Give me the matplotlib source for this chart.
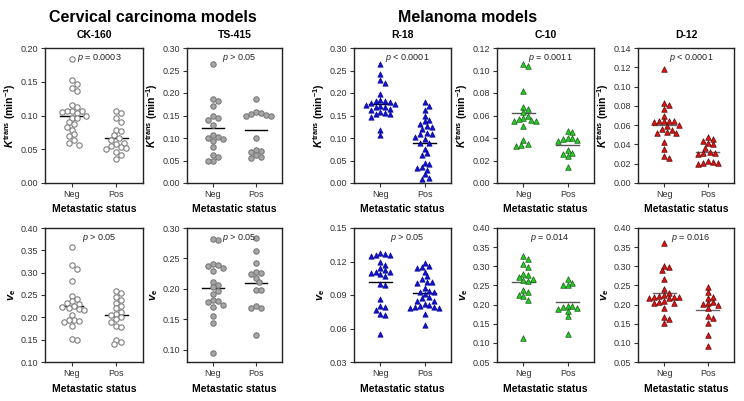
import matplotlib
matplotlib.use('Agg')
import matplotlib.pyplot as plt
import numpy as np

plt.rcParams['font.family'] = ['Liberation Sans', 'DejaVu Sans']
plt.rcParams['mathtext.fontset'] = 'custom'
plt.rcParams['mathtext.rm'] = 'Liberation Sans:bold'
plt.rcParams['mathtext.it'] = 'Liberation Sans:italic:bold'
plt.rcParams['mathtext.bf'] = 'Liberation Sans:bold'
plt.rcParams['mathtext.sf'] = 'Liberation Sans:italic'

groups = ['Neg', 'Pos']

# K-trans (min^-1), top row
ck160_ktrans_neg = [0.183, 0.152, 0.147, 0.140, 0.137, 0.116, 0.112, 0.106, 0.106, 0.106, 0.105, 0.104,
                    0.100, 0.097, 0.096, 0.090, 0.088, 0.083, 0.079, 0.072, 0.069, 0.063, 0.060, 0.057]
ck160_ktrans_pos = [0.107, 0.104, 0.097, 0.091, 0.078, 0.077, 0.071, 0.066, 0.064, 0.060, 0.058, 0.055,
                    0.053, 0.052, 0.051, 0.046, 0.041, 0.036]
ts415_ktrans_neg = [0.265, 0.186, 0.182, 0.171, 0.149, 0.145, 0.140, 0.130, 0.106, 0.103, 0.099, 0.097,
                    0.093, 0.081, 0.063, 0.058, 0.050, 0.049]
ts415_ktrans_pos = [0.187, 0.157, 0.155, 0.154, 0.152, 0.150, 0.148, 0.100, 0.074, 0.072, 0.070, 0.063,
                    0.058, 0.056]
r18_ktrans_neg = [0.265, 0.242, 0.228, 0.222, 0.197, 0.184, 0.182, 0.183, 0.180, 0.178, 0.176, 0.174,
                  0.172, 0.170, 0.168, 0.165, 0.163, 0.157, 0.155, 0.154, 0.153, 0.147, 0.118, 0.106]
r18_ktrans_pos = [0.180, 0.172, 0.162, 0.148, 0.140, 0.137, 0.131, 0.127, 0.124, 0.119, 0.111, 0.110,
                  0.109, 0.102, 0.097, 0.090, 0.089, 0.076, 0.066, 0.063, 0.045, 0.042, 0.035, 0.033,
                  0.030, 0.020, 0.012, 0.010]
c10_ktrans_neg = [0.106, 0.104, 0.082, 0.068, 0.066, 0.063, 0.060, 0.058, 0.057, 0.056, 0.055, 0.055,
                  0.051, 0.038, 0.035, 0.034, 0.033]
c10_ktrans_pos = [0.046, 0.045, 0.040, 0.040, 0.039, 0.038, 0.037, 0.029, 0.027, 0.026, 0.024, 0.014]
d12_ktrans_neg = [0.118, 0.083, 0.081, 0.077, 0.070, 0.064, 0.064, 0.064, 0.064, 0.063, 0.060, 0.059,
                  0.056, 0.055, 0.053, 0.052, 0.052, 0.043, 0.035, 0.028, 0.026]
d12_ktrans_pos = [0.048, 0.046, 0.044, 0.041, 0.040, 0.036, 0.032, 0.031, 0.031, 0.030, 0.023, 0.022,
                  0.021, 0.021, 0.020]

# v_e, bottom row
ck160_ve_neg = [0.358, 0.317, 0.308, 0.281, 0.247, 0.240, 0.236, 0.233, 0.230, 0.226, 0.224, 0.222,
                0.219, 0.216, 0.205, 0.195, 0.193, 0.192, 0.190, 0.181, 0.152, 0.149]
ck160_ve_pos = [0.260, 0.255, 0.245, 0.238, 0.233, 0.225, 0.220, 0.212, 0.208, 0.205, 0.200, 0.197,
                0.190, 0.180, 0.178, 0.150, 0.145, 0.140]
ts415_ve_neg = [0.281, 0.282, 0.241, 0.239, 0.237, 0.234, 0.230, 0.212, 0.206, 0.203, 0.197, 0.191,
                0.182, 0.180, 0.179, 0.174, 0.171, 0.156, 0.144, 0.095]
ts415_ve_pos = [0.283, 0.262, 0.242, 0.227, 0.226, 0.224, 0.218, 0.211, 0.199, 0.198, 0.169, 0.168,
                0.172, 0.125]
r18_ve_neg = [0.128, 0.127, 0.126, 0.126, 0.125, 0.120, 0.117, 0.114, 0.112, 0.111, 0.111, 0.110,
              0.109, 0.107, 0.100, 0.099, 0.086, 0.080, 0.079, 0.077, 0.073, 0.072, 0.055]
r18_ve_pos = [0.119, 0.116, 0.115, 0.114, 0.111, 0.107, 0.104, 0.102, 0.102, 0.101, 0.096, 0.094,
              0.093, 0.093, 0.091, 0.088, 0.087, 0.085, 0.085, 0.082, 0.081, 0.080, 0.079, 0.079,
              0.078, 0.078, 0.073, 0.063]
c10_ve_neg = [0.328, 0.318, 0.305, 0.298, 0.280, 0.277, 0.273, 0.268, 0.263, 0.262, 0.237, 0.233,
              0.226, 0.223, 0.212, 0.112]
c10_ve_pos = [0.266, 0.257, 0.252, 0.250, 0.197, 0.195, 0.194, 0.191, 0.189, 0.184, 0.170, 0.122]
d12_ve_neg = [0.360, 0.302, 0.297, 0.290, 0.268, 0.240, 0.229, 0.226, 0.222, 0.220, 0.220, 0.219,
              0.218, 0.216, 0.210, 0.207, 0.205, 0.205, 0.190, 0.168, 0.162, 0.153]
d12_ve_pos = [0.245, 0.232, 0.221, 0.218, 0.208, 0.205, 0.202, 0.198, 0.192, 0.170, 0.165, 0.151,
              0.120, 0.092]

# group lines (Neg, Pos) as drawn
ktrans_lines = [(0.100, 0.066), (0.123, 0.117), (0.175, 0.089), (0.062, 0.034), (0.060, 0.032)]
ve_lines = [(0.226, 0.205), (0.201, 0.209), (0.102, 0.092), (0.258, 0.207), (0.230, 0.186)]

models = ['CK-160', 'TS-415', 'R-18', 'C-10', 'D-12']
ktrans_p = ['= 0.0003', '> 0.05', '< 0.0001', '= 0.0011', '< 0.0001']
ve_p = ['> 0.05', '> 0.05', '> 0.05', '= 0.014', '= 0.016']

ktrans_data = [(ck160_ktrans_neg, ck160_ktrans_pos), (ts415_ktrans_neg, ts415_ktrans_pos),
               (r18_ktrans_neg, r18_ktrans_pos), (c10_ktrans_neg, c10_ktrans_pos),
               (d12_ktrans_neg, d12_ktrans_pos)]
ve_data = [(ck160_ve_neg, ck160_ve_pos), (ts415_ve_neg, ts415_ve_pos), (r18_ve_neg, r18_ve_pos),
           (c10_ve_neg, c10_ve_pos), (d12_ve_neg, d12_ve_pos)]

# axis ranges (low, high, tick step)
ktrans_ylim = [(0, 0.20, 0.05), (0, 0.30, 0.05), (0, 0.30, 0.05), (0, 0.12, 0.02), (0, 0.14, 0.02)]
ve_ylim = [(0.10, 0.40, 0.05), (0.08, 0.30, 0.05), (0.03, 0.15, 0.03), (0.05, 0.40, 0.05), (0.05, 0.40, 0.05)]

# marker styles per model
styles = [
    dict(marker='o', facecolor='white', edgecolor='#7f7f7f', s=15, lw=0.8),
    dict(marker='o', facecolor='#a6a6a6', edgecolor='#7a7a7a', s=15, lw=0.8),
    dict(marker='^', facecolor='#1010d0', edgecolor='#000080', s=15, lw=0.4),
    dict(marker='^', facecolor='#22cc22', edgecolor='#1a5a1a', s=16, lw=0.5),
    dict(marker='^', facecolor='#dd1111', edgecolor='#5a0a0a', s=16, lw=0.5),
]
line_colors = ['black', 'black', 'black', '#555555', '#666666']

col_px = [(45, 143), (187, 282), (354, 451), (497, 594), (638, 734)]
row_px = [(48, 183), (228, 362)]
W, H = 744, 401
XLIM = (0.4, 2.6)


def swarm_x(values, center, w_px, h_px, ylim, diam=4.9):
    sx = w_px / (XLIM[1] - XLIM[0])
    sy = h_px / (ylim[1] - ylim[0])
    values = np.asarray(values)
    order = np.argsort(-values)
    placed = []
    xs = np.zeros(len(values))
    step = diam * 0.5
    for i in order:
        ypx = values[i] * sy
        cands = [0.0]
        for k in range(1, 30):
            cands += [k * step, -k * step]
        for c in cands:
            if all((c - px) ** 2 + (ypx - py) ** 2 >= diam ** 2 for px, py in placed):
                placed.append((c, ypx))
                xs[i] = center + c / sx
                break
    return xs


fig = plt.figure(figsize=(W / 100, H / 100), dpi=100)


def draw_panel(ax, data, lines, ylim, style, lcolor, ptext, w_px, h_px):
    lo, hi, step = ylim
    for j, vals in enumerate(data):
        xs = swarm_x(vals, j + 1, w_px, h_px, (lo, hi))
        ax.scatter(xs, vals, zorder=3, **style)
        ax.plot([j + 1 - 0.26, j + 1 + 0.26], [lines[j], lines[j]], color=lcolor, lw=1.0, zorder=2)
    ax.set_xlim(*XLIM)
    ax.set_ylim(lo, hi)
    first = round(np.ceil(lo / step - 1e-9) * step, 4) + 0.0
    ticks = np.round(np.arange(first, hi + 1e-9, step), 4) + 0.0
    ax.set_yticks(ticks)
    ax.set_yticklabels(['%.2f' % t for t in ticks])
    ax.set_xticks([1, 2])
    ax.set_xticklabels(groups)
    ax.tick_params(labelsize=6.5, length=3, width=0.8, colors='#333333', pad=2)
    for sp in ax.spines.values():
        sp.set_linewidth(1.0)
        sp.set_color('#222222')
    ax.text(0.55, 0.925, r'$\mathsf{p}$ ' + ptext, transform=ax.transAxes, ha='center', va='center',
            fontsize=6.5, color='#222222')
    ax.set_xlabel('Metastatic status', fontsize=7.5, fontweight='bold', labelpad=4)


for i in range(5):
    l, r = col_px[i]
    for row in range(2):
        t, b = row_px[row]
        ax = fig.add_axes([l / W, 1 - b / H, (r - l) / W, (b - t) / H])
        if row == 0:
            draw_panel(ax, ktrans_data[i], ktrans_lines[i], ktrans_ylim[i], styles[i], line_colors[i],
                       ktrans_p[i], r - l, b - t)
            ax.set_ylabel(r'$K^{\mathrm{trans}}$ (min$^{-1}$)', fontsize=7.5, fontweight='bold', labelpad=2)
            ax.set_title(models[i], fontsize=7.5, fontweight='bold', pad=7)
        else:
            draw_panel(ax, ve_data[i], ve_lines[i], ve_ylim[i], styles[i], line_colors[i],
                       ve_p[i], r - l, b - t)
            ax.set_ylabel(r'$v_{\mathrm{e}}$', fontsize=8, labelpad=2)

fig.text(153 / W, 1 - 17 / H, 'Cervical carcinoma models', ha='center', va='center',
         fontsize=11.5, fontweight='bold')
fig.text(468 / W, 1 - 18 / H, 'Melanoma models', ha='center', va='center',
         fontsize=11.5, fontweight='bold')

fig.savefig('out.png', dpi=100)
